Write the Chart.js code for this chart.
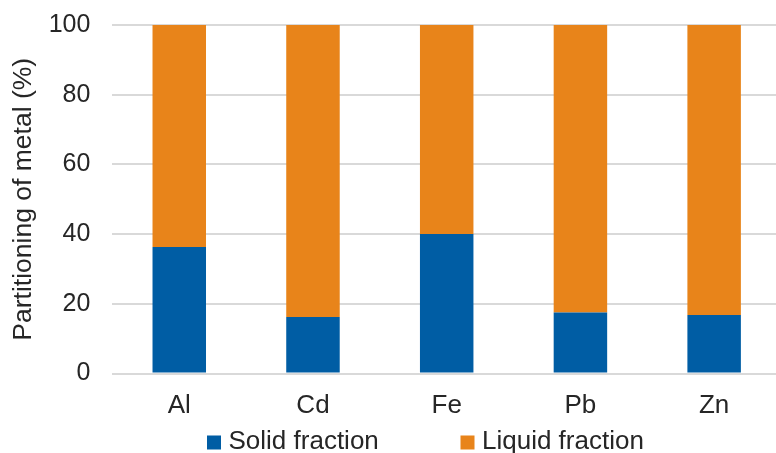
<!DOCTYPE html>
<html>
<head>
<meta charset="utf-8">
<script src="https://cdn.jsdelivr.net/npm/chart.js@4/dist/chart.umd.min.js"></script>
<style>
  html, body { margin: 0; padding: 0; background: #fff; overflow: hidden; }
  #wrap { width: 782px; height: 453px; position: relative; }
</style>
</head>
<body>
<div id="wrap"><canvas id="chart"></canvas></div>
<script>
// Metal partitioning between solid and liquid fractions (%)
const metals = ['Al', 'Cd', 'Fe', 'Pb', 'Zn'];
const solidFraction = [36.3, 16.2, 40.0, 17.5, 16.8];
const liquidFraction = [63.7, 83.8, 60.0, 82.5, 83.2];
const yTicks = [0, 20, 40, 60, 80, 100];

const FONT = '"Liberation Sans", Arial, sans-serif';
const TEXT = '#262626';

// Legend drawn below the category labels
const bottomLegend = {
  id: 'bottomLegend',
  afterDraw(chart) {
    const ctx = chart.ctx;
    const baseline = 449;
    const items = [
      { x: 207, ds: chart.data.datasets[0] },
      { x: 460.5, ds: chart.data.datasets[1] }
    ];
    ctx.save();
    ctx.font = '26px ' + FONT;
    ctx.textBaseline = 'alphabetic';
    ctx.textAlign = 'left';
    items.forEach(it => {
      ctx.fillStyle = it.ds.backgroundColor;
      ctx.fillRect(it.x, baseline - 13.5, 14, 14);
      ctx.fillStyle = TEXT;
      ctx.fillText(it.ds.label, it.x + 21.5, baseline);
    });
    ctx.restore();
  }
};

new Chart(document.getElementById('chart'), {
  type: 'bar',
  data: {
    labels: metals,
    datasets: [
      { label: 'Solid fraction', data: solidFraction, backgroundColor: '#005DA4',
        barPercentage: 0.4, categoryPercentage: 1.0 },
      { label: 'Liquid fraction', data: liquidFraction, backgroundColor: '#E8841A',
        barPercentage: 0.4, categoryPercentage: 1.0 }
    ]
  },
  options: {
    responsive: true,
    maintainAspectRatio: false,
    animation: false,
    layout: { padding: { top: 25, left: 0, right: 1, bottom: 0 } },
    plugins: {
      legend: { display: false },
      tooltip: { enabled: false }
    },
    scales: {
      x: {
        stacked: true,
        grid: { display: false, drawTicks: false },
        border: { display: false },
        ticks: { color: TEXT, font: { family: FONT, size: 26 }, padding: 17, maxRotation: 0 },
        afterFit(axis) {
          axis.height = 79.5;
          axis.paddingLeft = 0;
          axis.paddingRight = 0;
        }
      },
      y: {
        stacked: true,
        min: 0,
        max: 100,
        afterBuildTicks(axis) { axis.ticks = yTicks.map(v => ({ value: v })); },
        grid: { color: '#D9D9D9', lineWidth: 2, drawTicks: false },
        border: { display: false },
        ticks: { color: TEXT, font: { family: FONT, size: 25 }, padding: 22 },
        title: {
          display: true,
          text: 'Partitioning of metal (%)',
          color: TEXT,
          font: { family: FONT, size: 26.5 },
          padding: { top: 8, bottom: 0 }
        },
        afterFit(axis) {
          axis.width = 112.4;
          axis.paddingTop = 0;
          axis.paddingBottom = 0;
        }
      }
    }
  },
  plugins: [bottomLegend]
});
</script>
</body>
</html>
